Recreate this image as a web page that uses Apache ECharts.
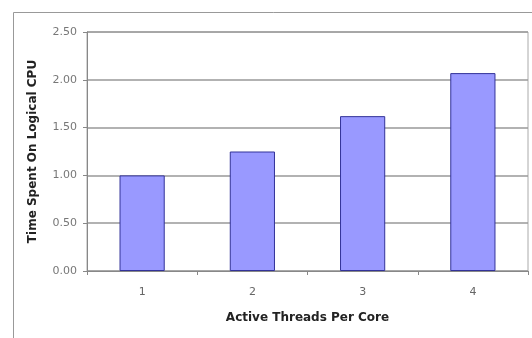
<!DOCTYPE html>
<html><head><meta charset="utf-8">
<script src="https://cdn.jsdelivr.net/npm/echarts@6/dist/echarts.min.js"></script>
<style>html,body{margin:0;padding:0;background:#fff}#c{width:532px;height:338px}</style>
</head><body><div id="c"></div>
<script>
var categories = ['1', '2', '3', '4'];
var values = [1.00, 1.25, 1.62, 2.07];
var yTicks = [0, 0.5, 1.0, 1.5, 2.0, 2.5];

var chart = echarts.init(document.getElementById('c'), null, {renderer: 'canvas'});
chart.setOption({
  animation: false,
  backgroundColor: '#fff',
  graphic: [{
    type: 'rect', left: 11, top: 10, silent: true, z: -1,
    shape: {width: 530, height: 340},
    style: {fill: 'none', stroke: '#999', lineWidth: 1}
  }],
  grid: {left: 87, right: 4, top: 32, bottom: 67, containLabel: false, show: true, borderColor: '#aaa', borderWidth: 1},
  xAxis: {
    type: 'category', data: categories,
    name: 'Active Threads Per Core', nameLocation: 'middle', nameGap: 41,
    nameTextStyle: {fontFamily: 'DejaVu Sans', fontSize: 12, fontWeight: 'bold', color: '#222'},
    axisLine: {lineStyle: {color: '#888', width: 1}},
    axisTick: {show: true, length: 4, lineStyle: {color: '#888'}},
    axisLabel: {fontFamily: 'DejaVu Sans', fontSize: 11, color: '#666', margin: 16}
  },
  yAxis: {
    type: 'value', min: 0, max: 2.5, interval: 0.5,
    name: 'Time Spent On Logical CPU', nameLocation: 'middle', nameGap: 48,
    nameTextStyle: {fontFamily: 'DejaVu Sans', fontSize: 12, fontWeight: 'bold', color: '#222'},
    axisLine: {show: true, lineStyle: {color: '#888'}},
    axisTick: {show: true, length: 4, lineStyle: {color: '#888'}},
    axisLabel: {fontFamily: 'DejaVu Sans', fontSize: 11, color: '#777', margin: 10,
      formatter: function (v) { return v.toFixed(2); }},
    splitLine: {show: true, lineStyle: {color: '#999', width: 1.5}}
  },
  series: [{
    type: 'bar', data: values, barWidth: '41%',
    itemStyle: {color: '#9999FF', borderColor: '#333399', borderWidth: 1}
  }]
});
</script></body></html>
